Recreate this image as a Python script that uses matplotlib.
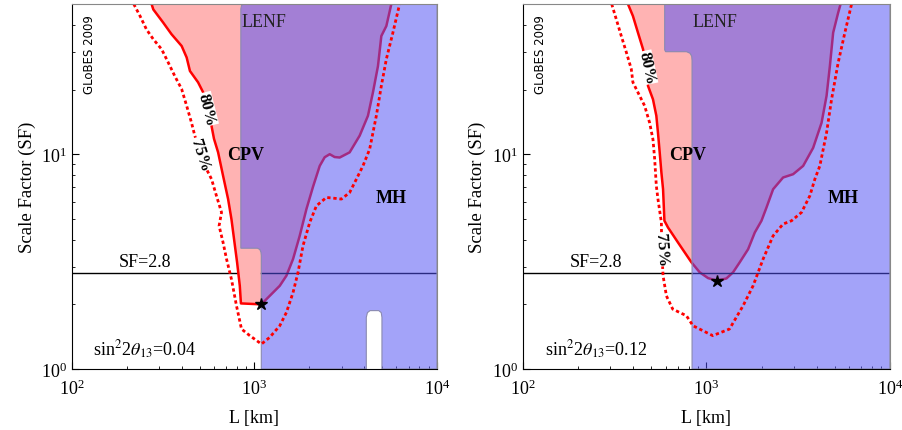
import numpy as np
import matplotlib
matplotlib.use('Agg')
import matplotlib.pyplot as plt

plt.rcParams['font.family'] = ['Liberation Serif', 'DejaVu Serif']
plt.rcParams['mathtext.fontset'] = 'stix'

SF_LINE = 2.8
XLIM = (1e2, 1e4)
YLIM = (1.0, 50.0)

# ---- left panel: sin^2 2theta13 = 0.04 ----
# CPV 80% contour (left edge going down, then right edge going up)
cpv80_L_a = [273, 279, 316, 351, 399, 425, 443, 491, 535, 564, 582, 600, 632, 673, 717, 748,
             773, 803, 831, 843, 1090, 1212, 1376, 1497, 1627, 1770, 1926, 2094, 2278, 2425,
             2584, 2750, 2931, 3323, 3771, 4187, 4459, 4750, 4957, 5280, 5623]
cpv80_SF_a = [50, 47.2, 41.0, 36.2, 31.9, 28.2, 24.4, 21.6, 18.7, 16.2, 13.5, 11.8, 10.2, 7.93,
              6.18, 4.98, 4.02, 3.14, 2.44, 2.02, 2.0, 2.19, 2.44, 2.72, 3.25, 4.17, 5.55, 7.06,
              8.82, 9.68, 10.0, 9.7, 9.65, 10.2, 12.2, 15.1, 19.4, 25.7, 35.5, 39.5, 50]
# 75% contour
cpv75_L_a = [218, 236, 256, 279, 310, 337, 366, 399, 425, 452, 471, 535, 582, 619, 660, 640,
             673, 703, 748, 797, 849, 943, 1092, 1212, 1376, 1497, 1627, 1733, 1845, 2008,
             2185, 2479, 2811, 2994, 3323, 3617, 3930, 4277, 4654, 4957, 5280, 5736, 6242]
cpv75_SF_a = [50, 44.0, 38.1, 34.3, 30.8, 26.7, 23.1, 20.1, 16.8, 14.0, 12.2, 8.82, 7.65, 6.40,
              5.36, 4.64, 3.88, 3.25, 2.62, 1.97, 1.535, 1.43, 1.307, 1.404, 1.59, 1.835, 2.27,
              2.82, 3.75, 4.81, 5.75, 6.29, 6.22, 6.18, 6.63, 7.65, 8.82, 10.55, 15.1, 20.8,
              27.7, 36.8, 50]
# MH region outline
mh_L_a = [870, 850, 842, 842, 1040, 1070, 1085, 1090, 1090, 4100, 4100, 4160, 4300, 4800,
          4950, 4995, 4995, 1e4, 1e4]
mh_SF_a = [50, 49.3, 47.5, 3.65, 3.65, 3.6, 3.5, 3.38, 1.0, 1.0, 1.74, 1.83, 1.87, 1.87,
           1.83, 1.74, 1.0, 1.0, 50]
star_a = (1090, 2.0)

# ---- right panel: sin^2 2theta13 = 0.12 ----
cpv80_L_b = [374, 398, 424, 452, 471, 481, 512, 534, 545, 557, 569, 581, 591, 618, 701, 829,
             920, 1022, 1144, 1287, 1399, 1521, 1689, 1837, 1998, 2128, 2312, 2620, 2972,
             3370, 3820, 4246, 4522, 4713, 4912, 5231, 5391]
cpv80_SF_b = [50, 44.0, 36.8, 30.8, 24.9, 20.8, 18.0, 15.1, 12.6, 10.2, 8.22, 6.87, 4.90,
              4.56, 3.88, 3.14, 2.82, 2.65, 2.575, 2.64, 2.82, 3.14, 3.61, 4.32, 4.90, 5.65,
              6.87, 7.79, 8.07, 8.82, 10.7, 14.0, 18.7, 25.7, 36.8, 45.6, 50]
cpv75_L_b = [305, 323, 344, 367, 390, 398, 433, 461, 491, 512, 523, 534, 545, 569, 571, 581,
             606, 656, 779, 846, 1084, 1337, 1586, 1798, 2039, 2312, 2620, 2913, 3303, 3665,
             3903, 4155, 4522, 4814, 5231, 5689, 6189]
cpv75_SF_b = [50, 42.5, 35.5, 29.7, 24.9, 21.6, 18.7, 16.8, 14.0, 11.7, 9.48, 7.12, 6.18,
              4.81, 3.61, 2.72, 2.19, 1.90, 1.77, 1.59, 1.43, 1.535, 1.97, 2.44, 3.25, 4.17,
              4.73, 4.90, 5.36, 6.40, 7.65, 8.82, 12.6, 18.0, 26.7, 36.8, 50]
mh_L_b = [593, 593, 600, 780, 815, 832, 836, 836, 1e4, 1e4]
mh_SF_b = [50, 30.6, 30.0, 30.0, 29.5, 28.6, 27.3, 1.0, 1.0, 50]
star_b = (1144, 2.575)

panels = [
    dict(pos=[0.0797, 0.1415, 0.4042, 0.8468], c80=(cpv80_L_a, cpv80_SF_a),
         c75=(cpv75_L_a, cpv75_SF_a), mh=(mh_L_a, mh_SF_a), star=star_a,
         theta=r'sin$^2$2$\theta_{13}$=0.04',
         lab80=(548, 16.2, -76), lab75=(500, 10.0, -72),
         lenf=(1130, 41.5), cpv=(893, 10.0), mh_txt=(5620, 6.3)),
    dict(pos=[0.579, 0.1415, 0.4064, 0.8468], c80=(cpv80_L_b, cpv80_SF_b),
         c75=(cpv75_L_b, cpv75_SF_b), mh=(mh_L_b, mh_SF_b), star=star_b,
         theta=r'sin$^2$2$\theta_{13}$=0.12',
         lab80=(473, 25.3, -78), lab75=(566, 3.6, -86),
         lenf=(1114, 41.5), cpv=(792, 10.0), mh_txt=(5546, 6.3)),
]

pink = '#ffb3b3'
blue = (81 / 255, 81 / 255, 245 / 255, 0.53)

fig = plt.figure(figsize=(9.03, 4.31), dpi=100)
for p in panels:
    ax = fig.add_axes(p['pos'])
    ax.set_xscale('log')
    ax.set_yscale('log')

    L80, S80 = p['c80']
    L75, S75 = p['c75']
    mhL, mhS = p['mh']

    # x where the MH region starts at the SF line
    x_mh = min(l for l, s in zip(mhL, mhS) if s <= SF_LINE)
    ax.plot([XLIM[0], x_mh], [SF_LINE, SF_LINE], color='black', lw=1.0, zorder=0.5)
    ax.plot([x_mh, XLIM[1]], [SF_LINE, SF_LINE], color='black', lw=1.0, zorder=2.2)

    ax.fill(L80, S80, color=pink, lw=0, zorder=1)
    ax.plot(L80, S80, color='red', lw=1.8, zorder=2)
    ax.fill(mhL, mhS, facecolor=blue, edgecolor='#8a8ab0', lw=0.8, zorder=3)
    ax.plot(L75, S75, color='red', lw=2.0, ls=(0, (1.2, 1.0)), zorder=4)
    ax.plot(*p['star'], marker='*', color='black', ms=9, zorder=6)

    tx, ty, rot = p['lab80']
    ax.text(tx, ty, '80%', rotation=rot, fontsize=12, fontweight='bold', ha='center',
            va='center', zorder=7, bbox=dict(facecolor='white', edgecolor='none', pad=0.2))
    tx, ty, rot = p['lab75']
    ax.text(tx, ty, '75%', rotation=rot, fontsize=12, fontweight='bold', ha='center',
            va='center', zorder=7, bbox=dict(facecolor='white', edgecolor='none', pad=0.2))

    ax.text(*p['lenf'], 'LENF', fontsize=13, ha='center', va='center', color='#222222', zorder=7)
    ax.text(*p['cpv'], 'CPV', fontsize=13, fontweight='bold', ha='center', va='center', zorder=7)
    ax.text(*p['mh_txt'], 'MH', fontsize=13, fontweight='bold', ha='center', va='center', zorder=7)
    ax.text(250, 3.15, 'SF=2.8', fontsize=13, ha='center', va='center', zorder=7)
    ax.text(250, 1.24, p['theta'], fontsize=13, ha='center', va='center', zorder=7)
    ax.text(125.5, 29.5, 'GLoBES 2009', family='DejaVu Sans', fontsize=8.5, rotation=90,
            ha='center', va='center', zorder=7)

    ax.set_xlim(*XLIM)
    ax.set_ylim(*YLIM)
    ax.set_xlabel('L [km]', fontsize=13, labelpad=8)
    ax.set_ylabel('Scale Factor (SF)', fontsize=13.5, labelpad=4)
    ax.tick_params(which='both', direction='in', labelsize=13)
    ax.tick_params(which='major', length=5)
    ax.tick_params(which='minor', length=2.5)
    ax.tick_params(axis='x', pad=7)
    for side in ['top', 'right']:
        ax.spines[side].set_color('#888888')
    for side in ax.spines:
        ax.spines[side].set_zorder(10)

fig.savefig('out.png', dpi=100)
